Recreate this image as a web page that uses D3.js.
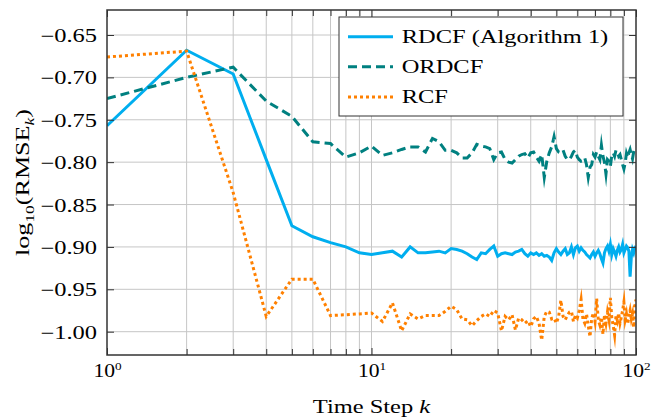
<!DOCTYPE html>
<html>
<head>
<meta charset="utf-8">
<script src="https://cdn.jsdelivr.net/npm/d3@7"></script>
<style>
  body { margin: 0; background: white; }
  text { font-family: "Liberation Serif", serif; fill: #000; }
</style>
</head>
<body>
<div id="chart"></div>
<script>
// time steps k = 1..100
const steps = d3.range(1, 101);

// log10(RMSE_k) per step
const rdcf = [
  -0.757, -0.668, -0.696, -0.797, -0.875, -0.888, -0.895, -0.900, -0.907, -0.909,
  -0.907, -0.905, -0.912, -0.900, -0.907, -0.907, -0.906, -0.905, -0.907, -0.902,
  -0.903, -0.905, -0.908, -0.912, -0.915, -0.907, -0.908, -0.903, -0.899, -0.911,
  -0.908, -0.907, -0.908, -0.909, -0.906, -0.905, -0.903, -0.908, -0.911, -0.907,
  -0.909, -0.907, -0.910, -0.908, -0.911, -0.910, -0.912, -0.916, -0.907, -0.902,
  -0.906, -0.909, -0.905, -0.902, -0.909, -0.907, -0.900, -0.909, -0.901, -0.899,
  -0.905, -0.901, -0.904, -0.906, -0.909, -0.911, -0.913, -0.909, -0.906, -0.911,
  -0.907, -0.904, -0.908, -0.914, -0.919, -0.907, -0.902, -0.899, -0.905, -0.897,
  -0.909, -0.902, -0.906, -0.911, -0.904, -0.900, -0.906, -0.903, -0.897, -0.907,
  -0.903, -0.899, -0.901, -0.905, -0.935, -0.912, -0.903, -0.907, -0.901, -0.899
];
const ordcf = [
  -0.725, -0.700, -0.688, -0.728, -0.746, -0.776, -0.778, -0.794, -0.789, -0.781,
  -0.792, -0.789, -0.785, -0.782, -0.782, -0.788, -0.772, -0.776, -0.786, -0.786,
  -0.789, -0.795, -0.795, -0.789, -0.779, -0.781, -0.782, -0.784, -0.797, -0.789,
  -0.788, -0.797, -0.800, -0.801, -0.797, -0.793, -0.791, -0.790, -0.795, -0.789,
  -0.788, -0.794, -0.799, -0.791, -0.818, -0.799, -0.789, -0.782, -0.770, -0.784,
  -0.788, -0.789, -0.786, -0.793, -0.797, -0.797, -0.793, -0.788, -0.786, -0.794,
  -0.797, -0.799, -0.798, -0.795, -0.803, -0.818, -0.806, -0.803, -0.791, -0.794,
  -0.788, -0.793, -0.797, -0.780, -0.793, -0.800, -0.814, -0.797, -0.799, -0.805,
  -0.792, -0.789, -0.793, -0.786, -0.788, -0.793, -0.791, -0.797, -0.803, -0.808,
  -0.801, -0.790, -0.795, -0.789, -0.785, -0.791, -0.796, -0.788, -0.784, -0.783
];
const rcf = [
  -0.676, -0.669, -0.836, -0.982, -0.938, -0.938, -0.981, -0.980, -0.979, -0.978,
  -0.988, -0.966, -0.999, -0.979, -0.985, -0.981, -0.981, -0.981, -0.976, -0.970,
  -0.974, -0.985, -0.986, -0.993, -0.987, -0.982, -0.979, -0.982, -0.975, -0.978,
  -0.999, -0.982, -0.986, -0.980, -0.998, -0.984, -0.986, -0.990, -0.987, -0.994,
  -0.985, -0.982, -0.990, -1.010, -0.982, -0.976, -0.977, -0.985, -0.984, -0.990,
  -0.982, -0.963, -0.982, -0.986, -0.981, -0.977, -0.976, -0.988, -0.981, -0.984,
  -0.975, -0.962, -0.985, -0.990, -0.979, -0.993, -1.006, -0.984, -0.978, -0.988,
  -0.961, -0.986, -0.992, -0.983, -1.003, -0.980, -0.990, -0.977, -0.986, -0.960,
  -0.984, -0.993, -1.004, -0.981, -0.987, -0.978, -0.990, -0.983, -0.975, -0.965,
  -0.986, -0.979, -0.991, -0.982, -0.975, -0.985, -0.979, -0.995, -0.970, -0.962
];

const seriesNames = ["RDCF (Algorithm 1)", "ORDCF", "RCF"];
const yTicks = [-1.00, -0.95, -0.90, -0.85, -0.80, -0.75, -0.70, -0.65];
const xMajor = [1, 10, 100];
const xMinor = [2, 3, 4, 5, 6, 7, 8, 9, 20, 30, 40, 50, 60, 70, 80, 90];

// line styles, in the same order as the series
const lineStyles = [
  {color: "#00aeef", dash: null},
  {color: "#008080", dash: "9,5"},
  {color: "#ff8000", dash: "3,3"}
];

const SX = 1.36; // horizontal stretch of the text

// set the dimensions and margins of the graph
const margin = {top: 10, right: 15, bottom: 64, left: 107},
    width = 651 - margin.left - margin.right,
    height = 419 - margin.top - margin.bottom;

const root = d3.select("#chart")
  .append("svg")
  .attr("width", 651)
  .attr("height", 419)
  .attr("style", "background-color: white");

const svg = root.append("g")
  .attr("transform", `translate(${margin.left}, ${margin.top})`);

const x = d3.scaleLog().domain([1, 100]).range([0, width]);
const y = d3.scaleLinear().domain([-1.0275, -0.6205]).range([height, 0]);

// grid
svg.append("g")
  .selectAll("line")
  .data(xMinor.concat([10]))
  .join("line")
  .attr("x1", d => x(d)).attr("x2", d => x(d))
  .attr("y1", 0).attr("y2", height)
  .attr("stroke", "#c6c6c6").attr("stroke-width", 1);

svg.append("g")
  .selectAll("line")
  .data(yTicks)
  .join("line")
  .attr("x1", 0).attr("x2", width)
  .attr("y1", d => y(d)).attr("y2", d => y(d))
  .attr("stroke", "#c6c6c6").attr("stroke-width", 1);

// data lines
svg.append("clipPath").attr("id", "plot-clip")
  .append("rect").attr("width", width).attr("height", height);

const line = d3.line()
  .x((d, i) => x(steps[i]))
  .y(d => y(d));

const plot = svg.append("g").attr("clip-path", "url(#plot-clip)");
[rdcf, ordcf, rcf].forEach((vals, i) => {
  plot.append("path")
    .datum(vals)
    .attr("d", line)
    .attr("fill", "none")
    .attr("stroke", lineStyles[i].color)
    .attr("stroke-width", 3)
    .attr("stroke-linejoin", "miter")
    .attr("stroke-miterlimit", 10)
    .attr("stroke-dasharray", lineStyles[i].dash);
});

// axes (ticks pointing inward)
function styleTicks(g) {
  g.select(".domain").remove();
  g.selectAll(".tick line").attr("stroke", "#333");
  g.attr("font-size", 18).attr("font-family", "Liberation Serif, serif");
}

svg.append("g")
  .call(d3.axisLeft(y).tickValues(yTicks).tickSize(-7).tickFormat(d3.format(".2f")))
  .call(styleTicks)
  .call(g => g.selectAll("text")
    .attr("x", null).attr("dy", null)
    .attr("transform", `translate(-10,6.5) scale(${SX},1)`));

svg.append("g")
  .attr("transform", `translate(${width},0)`)
  .call(d3.axisRight(y).tickValues(yTicks).tickSize(-7).tickFormat(""))
  .call(styleTicks);

svg.append("g")
  .attr("transform", `translate(0,${height})`)
  .call(d3.axisBottom(x).tickValues(xMinor).tickSize(-6).tickFormat(""))
  .call(styleTicks);

svg.append("g")
  .attr("transform", `translate(0,${height})`)
  .call(d3.axisBottom(x).tickValues(xMajor).tickSize(-7).tickFormat(""))
  .call(styleTicks)
  .call(g => g.selectAll("text")
    .attr("y", 22).attr("dy", null)
    .attr("transform", "scale(1.2,1)")
    .each(function(d) {
      const t = d3.select(this);
      t.append("tspan").text("10");
      t.append("tspan").attr("dy", -7).attr("font-size", 11).text(Math.round(Math.log10(d)));
    }));

svg.append("g")
  .call(d3.axisTop(x).tickValues(xMinor).tickSize(-6).tickFormat(""))
  .call(styleTicks);
svg.append("g")
  .call(d3.axisTop(x).tickValues(xMajor).tickSize(-7).tickFormat(""))
  .call(styleTicks);

// frame
svg.append("rect")
  .attr("width", width).attr("height", height)
  .attr("fill", "none").attr("stroke", "#333").attr("stroke-width", 1.5);

// axis labels
root.append("text")
  .attr("transform", `translate(${margin.left + width / 2},413) scale(${SX},1)`)
  .attr("text-anchor", "middle")
  .attr("font-size", 18)
  .call(t => {
    t.append("tspan").text("Time Step ");
    t.append("tspan").attr("font-style", "italic").text("k");
  });

root.append("text")
  .attr("transform", `translate(29,${margin.top + height / 2}) rotate(-90) scale(1.45,1)`)
  .attr("text-anchor", "middle")
  .attr("font-size", 18)
  .call(t => {
    t.append("tspan").text("log");
    t.append("tspan").attr("dy", 5).attr("font-size", 12).text("10");
    t.append("tspan").attr("dy", -5).text("(RMSE");
    t.append("tspan").attr("dy", 5).attr("font-size", 12).attr("font-style", "italic").text("k");
    t.append("tspan").attr("dy", -5).text(")");
  });

// legend
const legend = root.append("g");
legend.append("rect")
  .attr("x", 339).attr("y", 17).attr("width", 284).attr("height", 99)
  .attr("fill", "white").attr("stroke", "#333").attr("stroke-width", 1);

const rowY = [36.7, 66.7, 97];
seriesNames.forEach((name, i) => {
  legend.append("line")
    .attr("x1", 348).attr("x2", 393)
    .attr("y1", rowY[i]).attr("y2", rowY[i])
    .attr("stroke", lineStyles[i].color)
    .attr("stroke-width", 3)
    .attr("stroke-dasharray", lineStyles[i].dash);
  legend.append("text")
    .attr("transform", `translate(401.7,${rowY[i] + 6}) scale(${SX},1)`)
    .attr("font-size", 18)
    .text(name);
});
</script>
</body>
</html>
